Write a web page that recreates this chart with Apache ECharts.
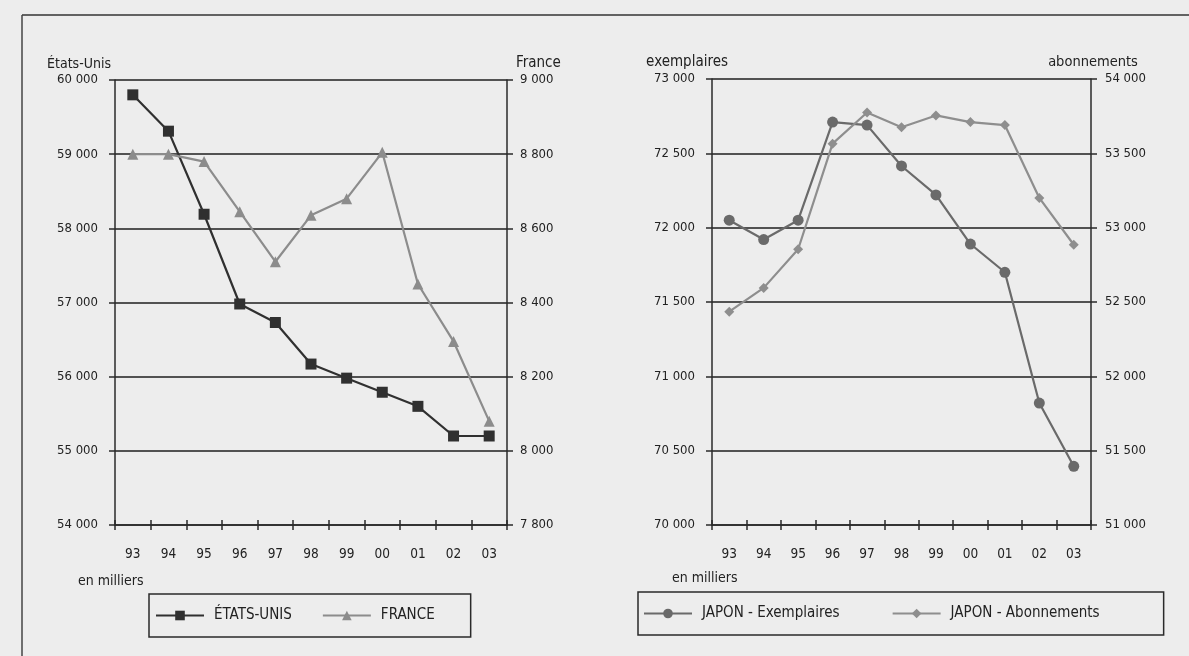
<!DOCTYPE html>
<html>
<head>
<meta charset="utf-8">
<script src="https://cdn.jsdelivr.net/npm/echarts@6/dist/echarts.min.js"></script>
<style>
html,body{margin:0;padding:0;background:#ededed;}
#c{width:1189px;height:656px;}
</style>
</head>
<body>
<div id="c"></div>
<script>
const years = ['93','94','95','96','97','98','99','00','01','02','03'];
const etatsUnis = [59800, 59310, 58190, 56980, 56730, 56170, 55980, 55790, 55600, 55200, 55200];
const france = [8800, 8800, 8780, 8645, 8510, 8635, 8680, 8805, 8450, 8295, 8080];
const japonExemplaires = [72050, 71920, 72050, 72710, 72690, 72415, 72220, 71890, 71700, 70820, 70395];
const japonAbonnements = [52435, 52595, 52855, 53565, 53775, 53675, 53755, 53710, 53690, 53200, 52885];

const FONT = "'DejaVu Sans Condensed','Liberation Sans Narrow',sans-serif";
const TXT = '#222';
const fmt = v => String(v).replace(/\B(?=(\d{3})+(?!\d))/g, ' ');

function yAx(grid, pos, min, max, interval, name, nameAlign, namePad, split, margin, nameSize) {
  return {
    type: 'value', gridIndex: grid, position: pos, min: min, max: max, interval: interval,
    name: name, nameLocation: 'end', nameGap: 9,
    nameTextStyle: {fontFamily: FONT, fontSize: nameSize, color: TXT, align: nameAlign, padding: namePad},
    axisLine: {show: true, lineStyle: {color: '#2a2a2a', width: 1.5}},
    axisTick: {show: true, length: 6, lineStyle: {color: '#2a2a2a', width: 1.5}},
    axisLabel: {fontFamily: FONT, fontSize: 13, color: TXT, margin: margin, formatter: fmt},
    splitLine: {show: split, lineStyle: {color: '#1e1e1e', width: 1.5}}
  };
}
function xAx(grid) {
  return {
    type: 'category', gridIndex: grid, data: years, boundaryGap: true,
    axisLine: {show: true, lineStyle: {color: '#2a2a2a', width: 1.5}},
    axisTick: {show: true, length: 5, lineStyle: {color: '#2a2a2a', width: 1.5}},
    axisLabel: {fontFamily: FONT, fontSize: 13.5, color: TXT, margin: 22, interval: 0}
  };
}
function xAxInside(grid) {
  return {
    type: 'category', gridIndex: grid, data: years, boundaryGap: true, position: 'bottom',
    axisLine: {show: false},
    axisTick: {show: true, inside: true, length: 5, lineStyle: {color: '#2a2a2a', width: 1.5}},
    axisLabel: {show: false}
  };
}

const legendBase = {
  orient: 'horizontal', itemWidth: 48, itemHeight: 12,
  borderColor: '#2a2a2a', borderWidth: 1.5, backgroundColor: 'transparent',
  textStyle: {fontFamily: FONT, fontSize: 15, color: TXT, padding: [0, 0, 0, 5]}
};

const chart = echarts.init(document.getElementById('c'), null, {renderer: 'canvas'});
chart.setOption({
  animation: false,
  backgroundColor: '#ededed',
  grid: [
    {left: 115, right: 682, top: 80, bottom: 131},
    {left: 712, right: 98, top: 79, bottom: 131}
  ],
  xAxis: [xAx(0), xAx(1), xAxInside(0), xAxInside(1)],
  yAxis: [
    yAx(0, 'left', 54000, 60000, 1000, 'États-Unis', 'right', [0, 4, 0, 0], true, 17, 14),
    yAx(0, 'right', 7800, 9000, 200, 'France', 'left', [0, 0, 0, 9], false, 13, 15),
    yAx(1, 'left', 70000, 73000, 500, 'exemplaires', 'right', [0, -16, 0, 0], true, 17, 15),
    yAx(1, 'right', 51000, 54000, 500, 'abonnements', 'center', [0, 0, 0, 4], false, 14, 14.5)
  ],
  legend: [
    Object.assign({}, legendBase, {data: ['ÉTATS-UNIS', 'FRANCE'], left: 149, top: 594, padding: [14, 36, 14, 6], itemGap: 30}),
    Object.assign({}, legendBase, {data: ['JAPON - Exemplaires', 'JAPON - Abonnements'], left: 638, top: 592, padding: [14, 64, 14, 5], itemGap: 52})
  ],
  series: [
    {name: 'ÉTATS-UNIS', type: 'line', xAxisIndex: 0, yAxisIndex: 0, data: etatsUnis,
     symbol: 'rect', symbolSize: 11, lineStyle: {color: '#303030', width: 2.2}, itemStyle: {color: '#303030'}},
    {name: 'FRANCE', type: 'line', xAxisIndex: 0, yAxisIndex: 1, data: france,
     symbol: 'triangle', symbolSize: 11, lineStyle: {color: '#8c8c8c', width: 2.2}, itemStyle: {color: '#8c8c8c'}},
    {name: 'JAPON - Exemplaires', type: 'line', xAxisIndex: 1, yAxisIndex: 2, data: japonExemplaires,
     symbol: 'circle', symbolSize: 11, lineStyle: {color: '#6a6a6a', width: 2.2}, itemStyle: {color: '#6a6a6a'}},
    {name: 'JAPON - Abonnements', type: 'line', xAxisIndex: 1, yAxisIndex: 3, data: japonAbonnements,
     symbol: 'diamond', symbolSize: 10, lineStyle: {color: '#8e8e8e', width: 2.2}, itemStyle: {color: '#8e8e8e'}}
  ],
  graphic: [
    {type: 'line', shape: {x1: 22, y1: 15, x2: 1189, y2: 15}, style: {stroke: '#333', lineWidth: 1.5}},
    {type: 'line', shape: {x1: 22, y1: 15, x2: 22, y2: 656}, style: {stroke: '#444', lineWidth: 1.5}},
    {type: 'text', left: 78, top: 574, style: {text: 'en milliers', font: '14px ' + FONT, fill: TXT}},
    {type: 'text', left: 672, top: 571, style: {text: 'en milliers', font: '14px ' + FONT, fill: TXT}}
  ]
});
</script>
</body>
</html>
